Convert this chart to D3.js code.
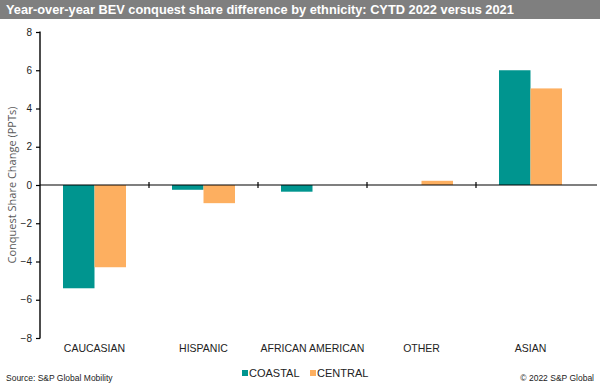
<!DOCTYPE html>
<html><head><meta charset="utf-8">
<script src="https://cdn.jsdelivr.net/npm/d3@7"></script>
<style>body{margin:0;background:#fff;}svg{display:block;font-family:Arial,"Liberation Sans",sans-serif;}</style>
</head><body>
<svg id="c" width="600" height="391"></svg>
<script>
const categories = ["CAUCASIAN","HISPANIC","AFRICAN AMERICAN","OTHER","ASIAN"];
const seriesNames = ["COASTAL","CENTRAL"];
const coastal = [-5.4, -0.25, -0.35, 0, 6.0];
const central = [-4.3, -0.95, 0, 0.22, 5.05];
const yTicks = [-8,-6,-4,-2,0,2,4,6,8];
const colors = ["#00958F","#FDAF60"];

const svg = d3.select("#c");
svg.append("rect").attr("x",0).attr("y",0).attr("width",600).attr("height",19).attr("fill","#7F7F7F");
svg.append("text").attr("x",6).attr("y",14).attr("fill","#fff").attr("font-size",12.8).attr("font-weight","bold")
  .text("Year-over-year BEV conquest share difference by ethnicity: CYTD 2022 versus 2021");

const x0 = d3.scaleBand().domain(categories).range([40,585]).paddingInner(0).paddingOuter(0);
const x1 = d3.scaleBand().domain(seriesNames).range([0,x0.bandwidth()]).paddingInner(0).paddingOuter(0.73);
const y = d3.scaleLinear().domain([-8,8]).range([338,32]);

const data = categories.map((c,i)=>({cat:c, vals:[coastal[i],central[i]]}));
const g = svg.append("g");
data.forEach(d=>{
  d.vals.forEach((v,j)=>{
    if (v===0) return;
    g.append("rect")
      .attr("x", x0(d.cat)+x1(seriesNames[j]))
      .attr("width", x1.bandwidth())
      .attr("y", y(Math.max(0,v)))
      .attr("height", Math.abs(y(v)-y(0)))
      .attr("fill", colors[j]);
  });
});

// y axis
const yAxis = d3.axisLeft(y).tickValues(yTicks).tickSize(4).tickFormat(d3.format("d"));
const ya = svg.append("g").attr("transform","translate(40,0)").call(yAxis);
ya.select(".domain").remove();
ya.selectAll(".tick line").attr("stroke","#000").attr("stroke-width",1.2);
ya.selectAll(".tick text").attr("font-size",10).attr("fill","#222").attr("font-family","Arial,'Liberation Sans',sans-serif").attr("x",-8);
svg.append("line").attr("x1",40).attr("x2",40).attr("y1",y(8)-0.6).attr("y2",y(-8)+0.6).attr("stroke","#000").attr("stroke-width",1.4);

// zero line and category ticks
svg.append("line").attr("x1",40).attr("x2",597).attr("y1",y(0)).attr("y2",y(0)).attr("stroke","#000").attr("stroke-width",1.2);
categories.slice(1).forEach(c=>{
  svg.append("line").attr("x1",x0(c)).attr("x2",x0(c)).attr("y1",y(0)-3).attr("y2",y(0)+3).attr("stroke","#000").attr("stroke-width",1.2);
});
// category labels
categories.forEach(c=>{
  svg.append("text").attr("x",x0(c)+x0.bandwidth()/2).attr("y",352).attr("text-anchor","middle")
    .attr("font-size",10.5).attr("fill","#222").text(c);
});

// y title
svg.append("text").attr("transform","translate(16,185) rotate(-90)").attr("text-anchor","middle")
  .attr("font-size",11).attr("fill","#595959").attr("font-family","'Open Sans','Noto Sans',sans-serif").text("Conquest Share Change (PPTs)");

// legend
const lg = svg.append("g");
const legX = [242, 310];
seriesNames.forEach((s,i)=>{
  lg.append("rect").attr("x",legX[i]).attr("y",370).attr("width",6).attr("height",6).attr("fill",colors[i]);
  lg.append("text").attr("x",legX[i]+7).attr("y",377).attr("font-size",11).attr("fill","#222").text(s);
});

svg.append("text").attr("x",6).attr("y",381).attr("font-size",8.5).attr("fill","#222").text("Source: S&P Global Mobility");
svg.append("text").attr("x",594).attr("y",381).attr("text-anchor","end").attr("font-size",8.5).attr("fill","#222").text("© 2022 S&P Global");
</script>
</body></html>
